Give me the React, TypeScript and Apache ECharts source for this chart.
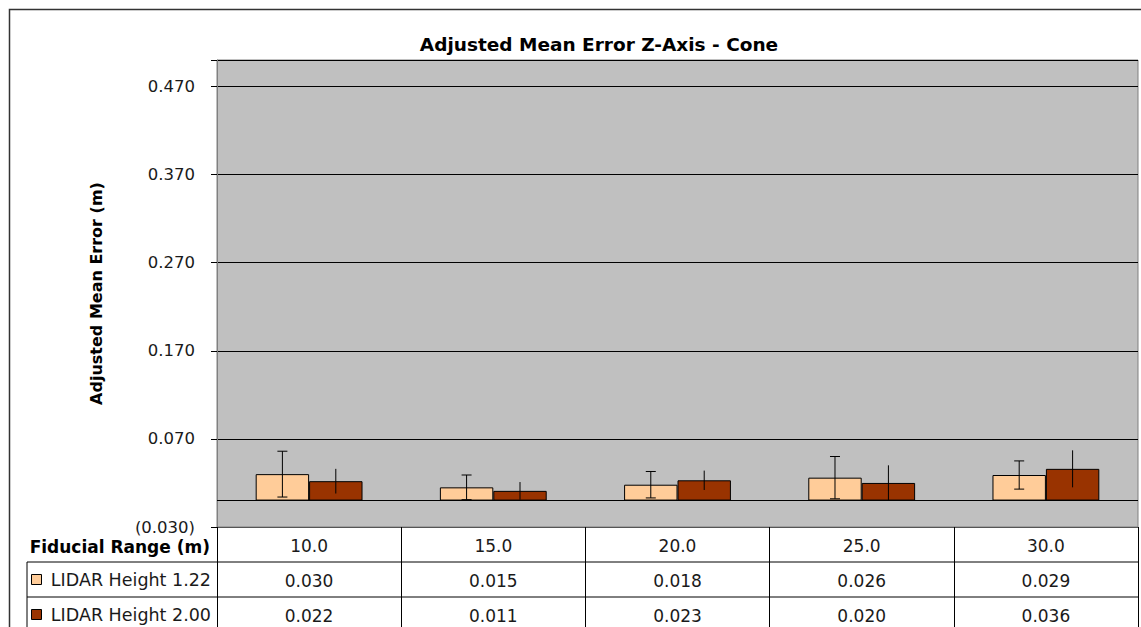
import React, { useEffect, useRef } from "react";
import * as echarts from "echarts";

const title = "Adjusted Mean Error Z-Axis - Cone";
const yAxisName = "Adjusted Mean Error (m)";
const xAxisName = "Fiducial Range (m)";
const categories = ["10.0", "15.0", "20.0", "25.0", "30.0"];
const seriesNames = ["LIDAR Height 1.22", "LIDAR Height 2.00"];
const h122 = [0.030, 0.015, 0.018, 0.026, 0.029];
const h200 = [0.022, 0.011, 0.023, 0.020, 0.036];
const err122 = [0.026, 0.014, 0.015, 0.024, 0.016];
const err200 = [0.014, 0.010, 0.011, 0.020, 0.021];
const colors = ["#FFCC99", "#993300"];
const yMin = -0.03;
const yMax = 0.5;
const yStep = 0.1;

const FONT = "'DejaVu Sans', Verdana, sans-serif";
const CAT_GAP = 0.42;

const GRID = { left: 217, top: 60, right: 1138, bottom: 527 };
const ROW_H = 35;

function errorSeries(values: number[], errs: number[], idx: number, caps: boolean) {
  return {
    type: "custom",
    name: seriesNames[idx] + " error",
    z: 5,
    silent: true,
    encode: { x: 0, y: 1 },
    data: values.map((v, i) => [i, v, errs[i]]),
    renderItem: (params: any, api: any) => {
      const ci = api.value(0);
      const v = api.value(1);
      const e = api.value(2);
      const cw = api.size([1, 0])[0];
      const bw = (cw * (1 - CAT_GAP)) / 2;
      const cx = api.coord([ci, v])[0] + (idx === 0 ? -bw / 2 : bw / 2);
      const yTop = api.coord([ci, v + e])[1];
      const yBot = api.coord([ci, v - e])[1];
      const style = { stroke: "#000", lineWidth: 1 };
      const children: any[] = [
        { type: "line", shape: { x1: cx, y1: yTop, x2: cx, y2: yBot }, style },
      ];
      if (caps) {
        children.push({ type: "line", shape: { x1: cx - 5, y1: yTop, x2: cx + 5, y2: yTop }, style });
        children.push({ type: "line", shape: { x1: cx - 5, y1: yBot, x2: cx + 5, y2: yBot }, style });
      }
      return { type: "group", children };
    },
  };
}

export default function App() {
  const ref = useRef<HTMLDivElement>(null);
  useEffect(() => {
    if (!ref.current) return;
    const chart = echarts.init(ref.current, null, { renderer: "svg" });
    const textColor = "#1a1a1a";
    const legendRowY = [GRID.bottom + ROW_H * 1.5, GRID.bottom + ROW_H * 2.5];
    const graphics: any[] = [
      {
        type: "rect",
        shape: { x: 9.5, y: 9.5, width: 1200, height: 700 },
        style: { fill: "none", stroke: "#333", lineWidth: 1.5 },
        z: 0,
      },
      {
        type: "text",
        x: GRID.left - 7,
        y: GRID.bottom + ROW_H / 2 + 2,
        style: {
          text: xAxisName,
          fill: "#000",
          font: `bold 17px ${FONT}`,
          textAlign: "right",
          textVerticalAlign: "middle",
        },
      },
      {
        type: "line",
        shape: { x1: 27, y1: GRID.bottom + ROW_H, x2: GRID.right, y2: GRID.bottom + ROW_H },
        style: { stroke: "#000", lineWidth: 1 },
      },
      {
        type: "line",
        shape: { x1: 27, y1: GRID.bottom + ROW_H * 2, x2: GRID.right, y2: GRID.bottom + ROW_H * 2 },
        style: { stroke: "#000", lineWidth: 1 },
      },
      {
        type: "line",
        shape: { x1: 27, y1: GRID.bottom + ROW_H, x2: 27, y2: 640 },
        style: { stroke: "#000", lineWidth: 1 },
      },
    ];
    seriesNames.forEach((n, i) => {
      graphics.push({
        type: "rect",
        shape: { x: 31.5, y: legendRowY[i] - 5, width: 10, height: 10 },
        style: { fill: colors[i], stroke: "#000", lineWidth: 1 },
      });
      graphics.push({
        type: "text",
        x: GRID.left - 6,
        y: legendRowY[i],
        style: {
          text: n,
          fill: textColor,
          font: `17.5px ${FONT}`,
          textAlign: "right",
          textVerticalAlign: "middle",
        },
      });
    });

    chart.setOption({
      animation: false,
      title: {
        text: title,
        left: 594,
        top: 30,
        textAlign: "center",
        textStyle: { fontFamily: FONT, fontSize: 18.5, fontWeight: "bold", color: "#000" },
      },
      grid: {
        left: GRID.left,
        top: GRID.top,
        right: 1141 - GRID.right,
        bottom: 627 - GRID.bottom,
        show: true,
        backgroundColor: "#C0C0C0",
        borderColor: "#808080",
        borderWidth: 1,
      },
      xAxis: {
        type: "category",
        data: categories,
        position: "bottom",
        axisLine: { onZero: false, lineStyle: { color: "#555", width: 1 } },
        axisTick: { show: true, length: 110, lineStyle: { color: "#000" } },
        axisLabel: {
          interval: 0,
          margin: 1,
          color: textColor,
          fontFamily: FONT,
          formatter: (value: string, idx: number) =>
            `{r|${value}}\n{r|${h122[idx].toFixed(3)}}\n{r|${h200[idx].toFixed(3)}}`,
          rich: {
            r: { fontSize: 17, lineHeight: ROW_H, fontFamily: FONT, color: textColor, align: "center" },
          },
        },
      },
      yAxis: {
        type: "value",
        min: yMin,
        max: yMax,
        interval: yStep,
        name: yAxisName,
        nameLocation: "middle",
        nameGap: 113,
        nameRotate: 90,
        nameTextStyle: { fontFamily: FONT, fontSize: 16, fontWeight: "bold", color: "#000" },
        axisLine: { show: true, lineStyle: { color: "#808080" } },
        axisTick: { show: true, length: 6, lineStyle: { color: "#000" } },
        axisLabel: {
          margin: 22,
          color: textColor,
          fontFamily: FONT,
          fontSize: 16.5,
          formatter: (v: number) => {
            if (v > yMax - 0.01) return "";
            const r = Math.round(v * 1000) / 1000;
            return r < 0 ? `(${Math.abs(r).toFixed(3)})` : r.toFixed(3);
          },
        },
        splitLine: { show: true, lineStyle: { color: "#000", width: 1 } },
      },
      graphic: graphics,
      series: [
        {
          type: "bar",
          name: seriesNames[0],
          data: h122,
          barGap: "0%",
          barCategoryGap: `${CAT_GAP * 100}%`,
          itemStyle: { color: colors[0], borderColor: "#000", borderWidth: 1 },
          markLine: {
            silent: true,
            symbol: "none",
            label: { show: false },
            lineStyle: { color: "#000", type: "solid", width: 1 },
            data: [{ yAxis: 0 }],
          },
        },
        {
          type: "bar",
          name: seriesNames[1],
          data: h200,
          barGap: "0%",
          barCategoryGap: `${CAT_GAP * 100}%`,
          itemStyle: { color: colors[1], borderColor: "#000", borderWidth: 1 },
        },
        errorSeries(h122, err122, 0, true),
        errorSeries(h200, err200, 1, false),
      ],
    });
    return () => chart.dispose();
  }, []);
  return (
    <div
      ref={ref}
      style={{ position: "fixed", left: 0, top: 0, width: 1141, height: 627, background: "#fff" }}
    />
  );
}
